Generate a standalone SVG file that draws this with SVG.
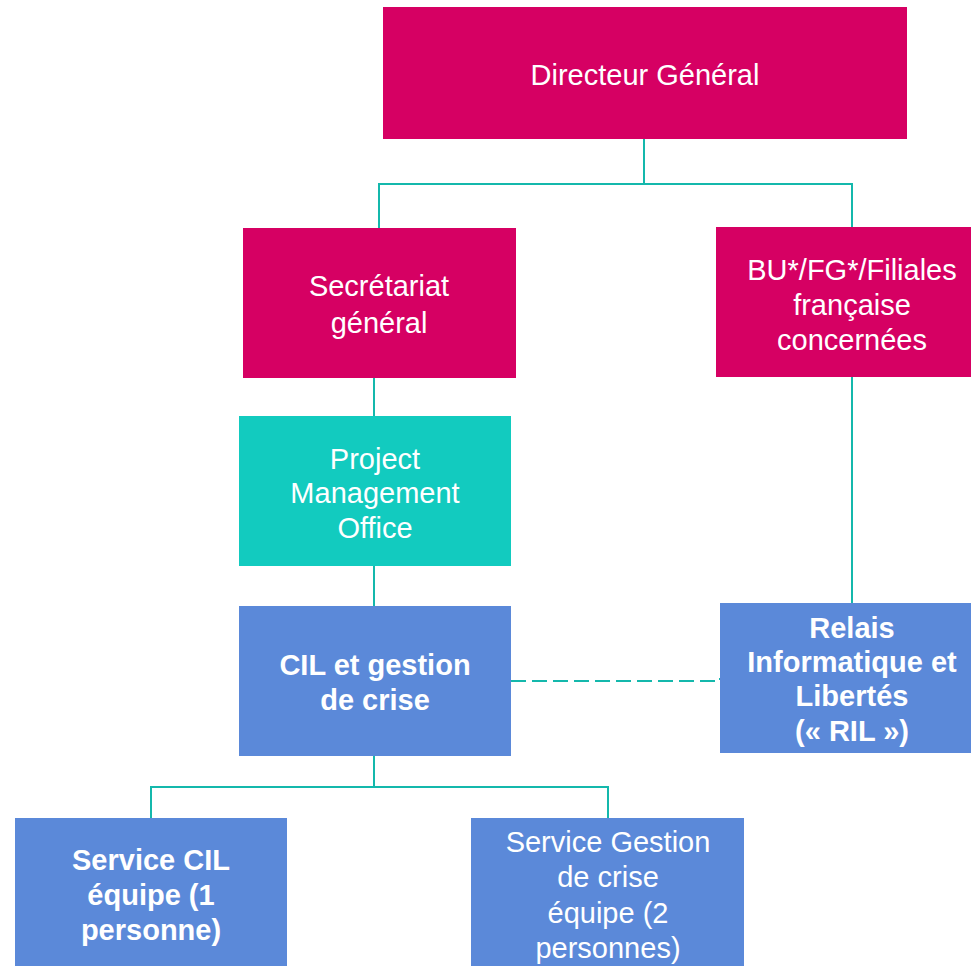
<svg xmlns="http://www.w3.org/2000/svg" width="971" height="966" viewBox="0 0 971 966">
<style>
.m{fill:#D60063}.t{fill:#12CBBF}.b{fill:#5B89D9}
text{font-family:"Liberation Sans",Arial,sans-serif;font-size:29px;fill:#fff;text-anchor:middle}
.bd{font-weight:bold}
.c{fill:none;stroke:#14B8AC;stroke-width:2}
</style>
<rect width="971" height="966" fill="#fff"/>
<g id="connectors">
<path class="c" d="M644,139V184M379,228V184H852V227"/>
<path class="c" d="M374,378V416M374,566V606M852,377V603"/>
<path class="c" d="M374,756V787M151,818V787H608V818"/>
<path class="c" d="M511,681H716V679H720" stroke-dasharray="15,6"/>
</g>
<g id="n1"><rect class="m" x="383" y="7" width="524" height="132"/><text x="645" y="85">Directeur Général</text></g>
<g id="n2"><rect class="m" x="243" y="228" width="273" height="150"/><text x="379" y="296">Secrétariat</text><text x="379" y="333">général</text></g>
<g id="n3"><rect class="m" x="716" y="227" width="255" height="150"/><text x="852" y="280">BU*/FG*/Filiales</text><text x="852" y="315">française</text><text x="852" y="350">concernées</text></g>
<g id="n4"><rect class="t" x="239" y="416" width="272" height="150"/><text x="375" y="469">Project</text><text x="375" y="503">Management</text><text x="375" y="538">Office</text></g>
<g id="n5"><rect class="b" x="239" y="606" width="272" height="150"/><text class="bd" x="375" y="675">CIL et gestion</text><text class="bd" x="375" y="710">de crise</text></g>
<g id="n6"><rect class="b" x="720" y="603" width="251" height="150"/><text class="bd" x="852" y="638">Relais</text><text class="bd" x="852" y="672">Informatique et</text><text class="bd" x="852" y="706">Libertés</text><text class="bd" x="852" y="741">(« RIL »)</text></g>
<g id="n7"><rect class="b" x="15" y="818" width="272" height="148"/><text class="bd" x="151" y="870">Service CIL</text><text class="bd" x="151" y="905">équipe (1</text><text class="bd" x="151" y="940">personne)</text></g>
<g id="n8"><rect class="b" x="471" y="818" width="273" height="148"/><text x="608" y="852">Service Gestion</text><text x="608" y="887">de crise</text><text x="608" y="923">équipe (2</text><text x="608" y="958">personnes)</text></g>
</svg>
